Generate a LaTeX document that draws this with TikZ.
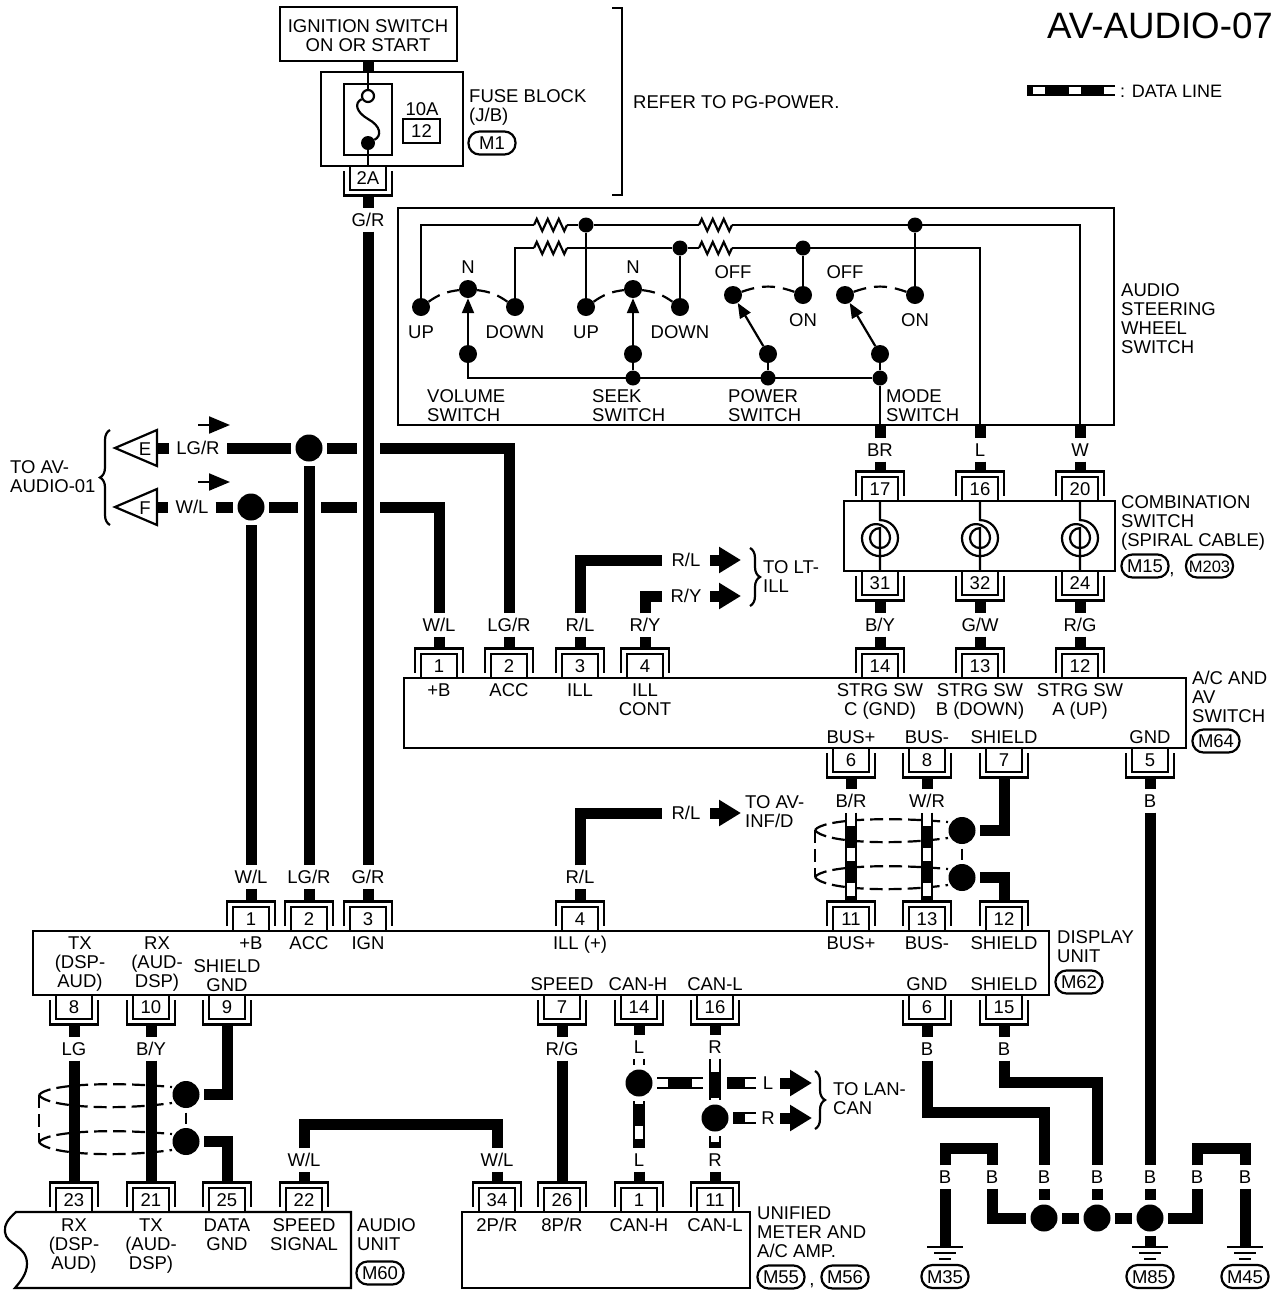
\documentclass[tikz,border=0pt]{standalone}
\usepackage{fontspec}
\setmainfont{Liberation Sans}
\usetikzlibrary{arrows.meta,decorations.pathmorphing,decorations.pathreplacing}
\tikzset{
  tline/.style={line width=2.2pt},
  wire/.style={line width=11pt},
  halo/.style={preaction={draw=white,line width=23pt}},
  fat/.style={line width=11pt,-{Triangle[length=22pt,width=25pt]}},
  dataline/.style={line width=11.5pt,postaction={draw=white,line width=7.5pt,#1}},
  dataline/.default={dash pattern=on 13pt off 22pt},
  txt/.style={inner sep=0pt,align=center,text height=13.3pt,text depth=0pt},
  txtl/.style={txt,align=left,anchor=west},
  wlabel/.style={txt,fill=white,minimum height=23pt},
  hlabel/.style={wlabel,minimum width=48pt},
  pinbox/.style={txt,draw,fill=white,line width=2.2pt,minimum width=36pt,minimum height=24pt},
  tag/.style={txt,draw,line width=2.2pt,rounded corners=11pt,minimum width=47pt,minimum height=23pt},
  dot/.style={circle,fill=black,inner sep=0pt,minimum size=27pt,outer sep=4.5pt},
  swdot/.style={circle,fill=black,inner sep=0pt,minimum size=18pt},
  smdot/.style={circle,fill=black,inner sep=0pt,minimum size=15pt},
  swtip/.style={tline,-{Triangle[length=15pt,width=12pt]}},
  swarc/.style={tline,dash pattern=on 13pt off 8pt},
  shdash/.style={tline,dash pattern=on 13pt off 6pt},
  res/.style={decorate,decoration={zigzag,amplitude=6pt,segment length=11pt}},
  bracew/.style={tline,decorate,decoration={brace,amplitude=10pt}},
  flag/.style={tline,-{Triangle[length=21pt,width=17pt]}},
}
\newcommand{\pintop}[4]{
  \node[pinbox] (#1) at (#2,#3-12) {#4};
  \draw[tline] (#2-24,#3-5) -- (#2-24,#3-29.5) -- (#2+24,#3-29.5) -- (#2+24,#3-5);
  \coordinate (#1w) at (#2,#3-30);
}
\newcommand{\pinbot}[4]{
  \node[pinbox] (#1) at (#2,#3+12) {#4};
  \draw[tline] (#2-24,#3+5) -- (#2-24,#3+29.5) -- (#2+24,#3+29.5) -- (#2+24,#3+5);
  \coordinate (#1w) at (#2,#3+30);
}
\newcommand{\spiralsw}[2]{
  \draw[tline] (#1.south) -- ++(0,18) arc[start angle=90,end angle=-180,radius=18pt] arc[start angle=180,end angle=0,radius=14pt] arc[start angle=0,end angle=-180,radius=10pt] arc[start angle=180,end angle=90,radius=10pt] -- (#2.north);
}
\newcommand{\shieldpair}[2]{
  \begin{scope}[shift={(#1,#2)}]
  \draw[shdash] (0,0) .. controls (7,-10) and (65,-14) .. (133,-8);
  \draw[shdash] (0,0) .. controls (7,12) and (75,16) .. (133,8);
  \draw[shdash] (0,0) -- (0,47);
  \draw[shdash] (0,47) .. controls (7,37) and (65,33) .. (133,39);
  \draw[shdash] (0,47) .. controls (7,59) and (75,63) .. (133,55);
  \end{scope}
}
\newcommand{\gndsym}[1]{
  \draw[tline] (#1-18,1247) -- (#1+18,1247);
  \draw[tline] (#1-11,1253) -- (#1+11,1253);
  \draw[tline] (#1-6,1259) -- (#1+6,1259);
}
\begin{document}
\begin{tikzpicture}[x=1pt,y=-1pt,every node/.style={font=\fontsize{18.5}{19}\selectfont}]
\useasboundingbox (0,0) rectangle (1278,1294);
\node[txt,font=\fontsize{36.7}{38}\selectfont,text height=26.5pt,anchor=east] (title) at (1273,25) {AV-AUDIO-07};
\coordinate (lega) at (1027,90.5);
\coordinate (legb) at (1115,90.5);
\draw[dataline={dash pattern=on 12pt off 23.5pt,dash phase=29.5pt}] (lega) -- (legb);
\node[txtl,font=\fontsize{18}{19}\selectfont] (legt) at (1120,90.5) {: DATA LINE};
\node[txtl] (refer) at (633,102) {REFER TO PG-POWER.};
\draw[tline] (612,8) -- (622,8) -- (622,195) -- (612,195);

\node[draw,tline,minimum width=177pt,minimum height=54pt] (ign) at (368.5,34) {};
\node[txt] (ignt) at (368,45) {IGNITION SWITCH\\ON OR START};
\node[draw,tline,minimum width=142pt,minimum height=94pt] (fuseblk) at (392,119) {};
\node[draw,tline,minimum width=48pt,minimum height=71pt] (fusein) at (368,119.5) {};
\coordinate (igns) at (368,60);
\coordinate (fuset) at (368,72);
\draw[wire] (igns) -- (fuset);
\node[circle,draw,tline,inner sep=0pt,minimum size=12pt] (fo) at (368,96) {};
\node[circle,fill=black,inner sep=0pt,minimum size=14pt] (fd) at (368,143) {};
\draw[tline] (fuset) -- (fo);
\draw[tline] (fo) .. controls (354,103) and (356,112) .. (368,119) .. controls (381,126) and (382,136) .. (fd);
\node[txt] (amp) at (422,109) {10A};
\node[pinbox,minimum width=37pt] (fz) at (421.5,131) {12};
\node[txtl] (fuse) at (469,115) {FUSE BLOCK\\(J/B)};
\node[tag] (tm1) at (492,143) {M1};
\pinbot{fp2a}{368}{166}{2A}
\draw[tline] (fd) -- (fp2a.north);

\draw[tline] (398,208) rectangle (1114,425);
\node[txtl] (swt) at (1121,347) {AUDIO\\STEERING\\WHEEL\\SWITCH};
\coordinate (sb1) at (880,425);
\coordinate (sb2) at (980,425);
\coordinate (sb3) at (1080,425);
\coordinate (r1a) at (534,225);
\coordinate (r1b) at (567,225);
\coordinate (r2a) at (534,248);
\coordinate (r2b) at (567,248);
\coordinate (r3a) at (699,225);
\coordinate (r3b) at (732,225);
\coordinate (r4a) at (699,248);
\coordinate (r4b) at (732,248);
\node[swdot] (vup) at (421,307) {};
\node[swdot] (vn) at (468,289) {};
\node[swdot] (vdn) at (515,307) {};
\node[swdot] (vb) at (468,354) {};
\node[swdot] (skup) at (586,307) {};
\node[swdot] (skn) at (633,289) {};
\node[swdot] (skdn) at (680,307) {};
\node[swdot] (skb) at (633,354) {};
\node[swdot] (pf) at (733,295) {};
\node[swdot] (po) at (803,295) {};
\node[swdot] (pb) at (768,354) {};
\node[swdot] (mf) at (845,295) {};
\node[swdot] (mo) at (915,295) {};
\node[swdot] (mb) at (880,354) {};
\node[smdot] (ja) at (633,378) {};
\node[smdot] (jb) at (768,378) {};
\node[smdot] (jc) at (880,378) {};
\node[smdot] (j1) at (586,225) {};
\node[smdot] (j2) at (680,248) {};
\node[smdot] (j3) at (803,248) {};
\node[smdot] (j4) at (915,225) {};
\draw[tline] (vup) |- (r1a);
\draw[tline,res] (r1a) -- (r1b);
\draw[tline] (r1b) -- (j1) -- (r3a);
\draw[tline,res] (r3a) -- (r3b);
\draw[tline] (r3b) -| (sb3);
\draw[tline] (vdn) |- (r2a);
\draw[tline,res] (r2a) -- (r2b);
\draw[tline] (r2b) -- (j2) -- (r4a);
\draw[tline,res] (r4a) -- (r4b);
\draw[tline] (r4b) -| (sb2);
\draw[tline] (j1) -- (skup);
\draw[tline] (j2) -- (skdn);
\draw[tline] (j3) -- (po);
\draw[tline] (j4) -- (mo);
\draw[tline] (vb) |- (jc);
\draw[tline] (skb) -- (ja);
\draw[tline] (pb) -- (jb);
\draw[tline] (mb) -- (jc) -- (sb1);
\draw[swtip] (vb) -- (vn);
\draw[swtip] (skb) -- (skn);
\draw[swtip] (pb) -- (pf);
\draw[swtip] (mb) -- (mf);
\draw[swarc] (vup) to[bend left=14] (vn);
\draw[swarc] (vn) to[bend left=14] (vdn);
\draw[swarc] (skup) to[bend left=14] (skn);
\draw[swarc] (skn) to[bend left=14] (skdn);
\draw[swarc] (pf) to[bend left=20] (po);
\draw[swarc] (mf) to[bend left=20] (mo);
\node[txt] (n1) at (468,267) {N};
\node[txt] (n2) at (633,267) {N};
\node[txt] (u1) at (421,332) {UP};
\node[txt] (d1) at (515,332) {DOWN};
\node[txt] (u2) at (586,332) {UP};
\node[txt] (d2) at (680,332) {DOWN};
\node[txt] (off1) at (733,272) {OFF};
\node[txt] (on1) at (803,320) {ON};
\node[txt] (off2) at (845,272) {OFF};
\node[txt] (on2) at (915,320) {ON};
\node[txtl] (volt) at (427,415) {VOLUME\\SWITCH};
\node[txtl] (seekt) at (592,415) {SEEK\\SWITCH};
\node[txtl] (powt) at (728,415) {POWER\\SWITCH};
\node[txtl] (modet) at (886,415) {MODE\\SWITCH};

\node[draw,tline,minimum width=271pt,minimum height=70pt] (csbox) at (979.5,536) {};
\pintop{cs17}{880}{501}{17}
\pintop{cs16}{980}{501}{16}
\pintop{cs20}{1080}{501}{20}
\pinbot{cs31}{880}{571}{31}
\pinbot{cs32}{980}{571}{32}
\pinbot{cs24}{1080}{571}{24}
\spiralsw{cs17}{cs31}
\spiralsw{cs16}{cs32}
\spiralsw{cs20}{cs24}
\node[txtl] (cst) at (1121,540) {COMBINATION\\SWITCH\\(SPIRAL CABLE)};
\node[tag] (tm15) at (1145,566) {M15};
\node[txt] (cs1) at (1172,568) {,};
\node[tag,font=\fontsize{16.5}{19}\selectfont] (tm203) at (1209.5,566) {M203};
\node[wlabel] (lbr) at (880,450) {BR};
\node[wlabel] (ll) at (980,450) {L};
\node[wlabel] (lw) at (1080,450) {W};
\draw[wire] (sb1) -- (lbr) -- (cs17w);
\draw[wire] (sb2) -- (ll) -- (cs16w);
\draw[wire] (sb3) -- (lw) -- (cs20w);

\draw[tline] (404,678) rectangle (1186,748);
\pintop{ac1}{439}{678}{1}
\pintop{ac2}{509}{678}{2}
\pintop{ac3}{580}{678}{3}
\pintop{ac4}{645}{678}{4}
\pintop{ac14}{880}{678}{14}
\pintop{ac13}{980}{678}{13}
\pintop{ac12}{1080}{678}{12}
\pinbot{ac6}{851}{748}{6}
\pinbot{ac8}{927}{748}{8}
\pinbot{ac7}{1004}{748}{7}
\pinbot{ac5}{1150}{748}{5}
\node[txt] (at1) at (439,690) {+B};
\node[txt] (at2) at (509,690) {ACC};
\node[txt] (at3) at (580,690) {ILL};
\node[txt] (at4) at (645,709) {ILL\\CONT};
\node[txt] (at5) at (880,709) {STRG SW\\C (GND)};
\node[txt] (at6) at (980,709) {STRG SW\\B (DOWN)};
\node[txt] (at7) at (1080,709) {STRG SW\\A (UP)};
\node[txt] (at8) at (851,737) {BUS+};
\node[txt] (at9) at (927,737) {BUS-};
\node[txt] (at10) at (1004,737) {SHIELD};
\node[txt] (at11) at (1150,737) {GND};
\node[txtl] (act) at (1192,716) {A/C AND\\AV\\SWITCH};
\node[tag] (tm64) at (1216,741) {M64};
\node[wlabel] (lby) at (880,625) {B/Y};
\node[wlabel] (lgw) at (980,625) {G/W};
\node[wlabel] (lrg) at (1080,625) {R/G};
\draw[wire] (cs31w) -- (lby) -- (ac14w);
\draw[wire] (cs32w) -- (lgw) -- (ac13w);
\draw[wire] (cs24w) -- (lrg) -- (ac12w);

\node[wlabel] (lwl1) at (439,625) {W/L};
\node[wlabel] (llg1) at (509,625) {LG/R};
\node[wlabel] (lrl1) at (580,625) {R/L};
\node[wlabel] (lry1) at (645,625) {R/Y};
\node[hlabel] (lrl2) at (686,560) {R/L};
\node[hlabel] (lry2) at (686,596) {R/Y};
\coordinate (tlt1) at (741,560);
\coordinate (tlt2) at (741,596);
\draw[wire] (ac3w) -- (lrl1) |- (lrl2);
\draw[wire] (ac4w) -- (lry1) |- (lry2);
\draw[fat] (lrl2) -- (tlt1);
\draw[fat] (lry2) -- (tlt2);
\draw[bracew] (750,548) -- (750,606);
\node[txtl] (ltt) at (763,586) {TO LT-\\ILL};

\draw[tline] (115,448) -- (157,430) -- (157,466) -- cycle;
\draw[tline] (115,507) -- (157,489) -- (157,525) -- cycle;
\node[txt] (et) at (145,449) {E};
\node[txt] (ft) at (145,508) {F};
\coordinate (eb) at (157,448);
\coordinate (fb) at (157,507);
\node[hlabel,minimum width=58pt] (llg2) at (198,448) {LG/R};
\node[hlabel,minimum width=47pt] (lwl2) at (192,507) {W/L};
\node[dot] (je) at (309,448) {};
\node[dot] (jf) at (251,507) {};
\draw[wire] (eb) -- (llg2) -- (je) -| (llg1) -- (ac2w);
\draw[wire] (fb) -- (lwl2) -- (jf) -| (lwl1) -- (ac1w);
\coordinate (fla) at (198,425);
\coordinate (flb) at (230,425);
\coordinate (flc) at (198,482);
\coordinate (fld) at (230,482);
\draw[flag] (fla) -- (flb);
\draw[flag] (flc) -- (fld);
\draw[bracew] (110,525) -- (110,430);
\node[txtl] (toav) at (10,486) {TO AV-\\AUDIO-01};

\draw[tline] (33,931) rectangle (1049,995);
\pintop{du1}{251}{931}{1}
\pintop{du2}{309}{931}{2}
\pintop{du3}{368}{931}{3}
\pintop{du4}{580}{931}{4}
\pintop{du11}{851}{931}{11}
\pintop{du13}{927}{931}{13}
\pintop{du12}{1004}{931}{12}
\pinbot{du8}{74}{995}{8}
\pinbot{du10}{151}{995}{10}
\pinbot{du9}{227}{995}{9}
\pinbot{du7}{562}{995}{7}
\pinbot{du14}{639}{995}{14}
\pinbot{du16}{715}{995}{16}
\pinbot{du6}{927}{995}{6}
\pinbot{du15}{1004}{995}{15}
\node[txt] (dt1) at (251,943) {+B};
\node[txt] (dt2) at (309,943) {ACC};
\node[txt] (dt3) at (368,943) {IGN};
\node[txt] (dt4) at (580,943) {ILL (+)};
\node[txt] (dt5) at (851,943) {BUS+};
\node[txt] (dt6) at (927,943) {BUS-};
\node[txt] (dt7) at (1004,943) {SHIELD};
\node[txt] (dt8) at (80,981) {TX\\(DSP-\\AUD)};
\node[txt] (dt9) at (157,981) {RX\\(AUD-\\DSP)};
\node[txt] (dt10) at (227,985) {SHIELD\\GND};
\node[txt] (dt11) at (562,984) {SPEED};
\node[txt] (dt12) at (638,984) {CAN-H};
\node[txt] (dt13) at (715,984) {CAN-L};
\node[txt] (dt14) at (927,984) {GND};
\node[txt] (dt15) at (1004,984) {SHIELD};
\node[txtl] (dut) at (1057,956) {DISPLAY\\UNIT};
\node[tag] (tm62) at (1079,982) {M62};

\node[wlabel] (lgr1) at (368,220) {G/R};
\node[wlabel] (lwl3) at (251,877) {W/L};
\node[wlabel] (llg3) at (309,877) {LG/R};
\node[wlabel] (lgr2) at (368,877) {G/R};
\draw[wire,halo] (jf) -- (lwl3);
\draw[wire] (lwl3) -- (du1w);
\draw[wire,halo] (je) -- (llg3);
\draw[wire] (llg3) -- (du2w);
\draw[wire] (fp2aw) -- (lgr1);
\draw[wire,halo] (lgr1) -- (lgr2);
\draw[wire] (lgr2) -- (du3w);

\node[wlabel] (lrl3) at (580,877) {R/L};
\node[hlabel] (lrl4) at (686,813) {R/L};
\coordinate (tav) at (741,813);
\draw[wire] (du4w) -- (lrl3) |- (lrl4);
\draw[fat] (lrl4) -- (tav);
\node[txtl] (toinf) at (745,821) {TO AV-\\INF/D};

\shieldpair{815}{830}
\node[wlabel] (lbr2) at (851,801) {B/R};
\node[wlabel] (lwr) at (927,801) {W/R};
\draw[wire] (ac6w) -- (lbr2);
\draw[wire] (ac8w) -- (lwr);
\draw[dataline] (lbr2) -- (du11w);
\draw[dataline] (lwr) -- (du13w);
\node[dot] (sa) at (962,830.5) {};
\node[dot] (sb) at (962,877.5) {};
\draw[tline] (sa) -- (sb);
\draw[wire] (ac7w) |- (sa);
\draw[wire] (du12w) |- (sb);

\draw[tline] (351,1212) -- (16,1212) .. controls (8,1219) and (4,1225) .. (5,1232) .. controls (6,1245) and (27,1245) .. (27,1264) .. controls (27,1274) and (20,1282) .. (15,1288) -- (351,1288) -- cycle;
\pintop{au23}{74}{1212}{23}
\pintop{au21}{151}{1212}{21}
\pintop{au25}{227}{1212}{25}
\pintop{au22}{304}{1212}{22}
\node[txt] (aut1) at (74,1263) {RX\\(DSP-\\AUD)};
\node[txt] (aut2) at (151,1263) {TX\\(AUD-\\DSP)};
\node[txt] (aut3) at (227,1244) {DATA\\GND};
\node[txt] (aut4) at (304,1244) {SPEED\\SIGNAL};
\node[txtl] (aut) at (357,1244) {AUDIO\\UNIT};
\node[tag] (tm60) at (380,1273) {M60};

\draw[tline] (462,1212) rectangle (750,1288);
\pintop{um34}{497}{1212}{34}
\pintop{um26}{562}{1212}{26}
\pintop{um1}{639}{1212}{1}
\pintop{um11}{715}{1212}{11}
\node[txt] (ut1) at (497,1225) {2P/R};
\node[txt] (ut2) at (562,1225) {8P/R};
\node[txt] (ut3) at (639,1225) {CAN-H};
\node[txt] (ut4) at (715,1225) {CAN-L};
\node[txtl] (umt) at (757,1251) {UNIFIED\\METER AND\\A/C AMP.};
\node[tag] (tm55) at (781,1277) {M55};
\node[txt] (um1c) at (812,1279) {,};
\node[tag] (tm56) at (845,1277) {M56};

\shieldpair{39}{1095}
\node[wlabel] (llg) at (74,1049) {LG};
\node[wlabel] (lby2) at (151,1049) {B/Y};
\draw[wire] (du8w) -- (llg) -- (au23w);
\draw[wire] (du10w) -- (lby2) -- (au21w);
\node[dot] (sc) at (186,1094.5) {};
\node[dot] (sd) at (186,1141.5) {};
\draw[tline] (sc) -- (sd);
\draw[wire] (du9w) |- (sc);
\draw[wire] (au25w) |- (sd);

\node[wlabel] (lsp1) at (304,1160) {W/L};
\node[wlabel] (lsp2) at (497,1160) {W/L};
\coordinate (bsp) at (497,1124);
\draw[wire] (au22w) -- (lsp1) |- (bsp) -- (lsp2) -- (um34w);
\node[wlabel] (lrg2) at (562,1049) {R/G};
\draw[wire] (du7w) -- (lrg2) -- (um26w);

\node[wlabel,minimum width=14pt] (lcl1) at (639,1047) {L};
\node[wlabel,minimum width=14pt] (lcr1) at (715,1047) {R};
\node[wlabel,minimum width=14pt] (lcl2) at (639,1160) {L};
\node[wlabel,minimum width=14pt] (lcr2) at (715,1160) {R};
\node[dot] (cl) at (639,1083) {};
\node[dot] (cr) at (715,1118) {};
\node[wlabel,minimum width=24pt] (lcl3) at (768,1083) {L};
\node[wlabel,minimum width=24pt] (lcr3) at (768,1118) {R};
\coordinate (cha) at (703,1083);
\coordinate (chb) at (727,1083);
\coordinate (arl) at (812,1083);
\coordinate (arra) at (780,1118);
\coordinate (arr) at (812,1118);
\draw[wire] (du14w) -- (lcl1);
\draw[wire] (du16w) -- (lcr1);
\draw[wire] (lcl2) -- (um1w);
\draw[wire] (lcr2) -- (um11w);
\draw[dataline={dash pattern=on 20pt off 1pt}] (lcl1) -- (cl);
\draw[dataline={dash pattern=on 3pt off 22pt on 13pt off 40pt}] (cl) -- (lcl2);
\draw[dataline={dash pattern=on 11pt off 24pt}] (cl) -- (cha);
\draw[dataline={dash pattern=on 13pt off 26pt}] (lcr1) -- (cr);
\draw[dataline={dash pattern=on 6pt off 20pt}] (cr) -- (lcr2);
\draw[dataline={dash pattern=on 12pt off 18pt,dash phase=12pt}] (chb) -- (lcl3);
\draw[dataline={dash pattern=on 12pt off 12pt,dash phase=12pt}] (cr) -- (lcr3);
\draw[fat] (lcl3) -- (arl);
\draw[fat] (arra) -- (arr);
\draw[bracew] (815,1071) -- (815,1129);
\node[txtl] (tolan) at (833,1108) {TO LAN-\\CAN};

\node[wlabel,minimum width=14pt] (lb6) at (927,1049) {B};
\node[wlabel,minimum width=14pt] (lb15) at (1004,1049) {B};
\node[wlabel,minimum width=14pt] (lb5) at (1150,801) {B};
\node[wlabel,minimum width=14pt] (lg0) at (945,1177) {B};
\node[wlabel,minimum width=14pt] (lga) at (992,1177) {B};
\node[wlabel,minimum width=14pt] (lg1) at (1044,1177) {B};
\node[wlabel,minimum width=14pt] (lg2) at (1097,1177) {B};
\node[wlabel,minimum width=14pt] (lg3) at (1150,1177) {B};
\node[wlabel,minimum width=14pt] (lgb) at (1197,1177) {B};
\node[wlabel,minimum width=14pt] (lg4) at (1245,1177) {B};
\node[dot] (g1) at (1044,1218) {};
\node[dot] (g2) at (1097,1218) {};
\node[dot] (g3) at (1150,1218) {};
\coordinate (b6) at (1044,1112);
\coordinate (b15) at (1097,1082);
\coordinate (b35) at (992,1148);
\coordinate (b45) at (1245,1148);
\coordinate (gm35) at (945,1247);
\coordinate (gm85) at (1150,1247);
\coordinate (gm45) at (1245,1247);
\draw[wire] (du6w) -- (lb6) |- (b6) -- (lg1) -- (g1);
\draw[wire] (du15w) -- (lb15) |- (b15) -- (lg2) -- (g2);
\draw[wire] (ac5w) -- (lb5) -- (lg3) -- (g3) -- (gm85);
\draw[wire] (gm35) -- (lg0) |- (b35) -- (lga) |- (g1);
\draw[wire] (g3) -| (lgb) |- (b45) -- (lg4) -- (gm45);
\draw[wire] (g1) -- (g2) -- (g3);
\gndsym{945}
\gndsym{1150}
\gndsym{1245}
\node[tag] (tm35) at (945,1276.5) {M35};
\node[tag] (tm85) at (1150,1276.5) {M85};
\node[tag] (tm45) at (1245,1276.5) {M45};
\end{tikzpicture}
\end{document}
